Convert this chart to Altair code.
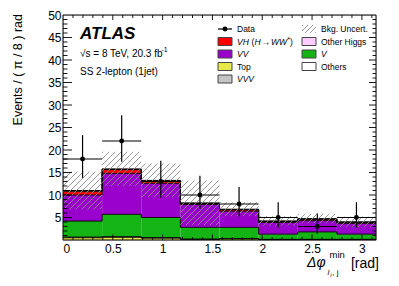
import numpy as np
import pandas as pd
import altair as alt

# ---------------- data ----------------
bin_edges = [i * np.pi / 8 for i in range(9)]
data_counts = [18, 22, 13, 10, 8, 5, 3, 5]
data_err_lo = [13.8, 17.4, 9.4, 6.9, 5.2, 2.8, 1.4, 2.8]
data_err_hi = [23.3, 27.7, 17.6, 14.3, 11.8, 8.4, 5.9, 8.4]

comp_names = ["Top", "VVV", "V", "VV", "VH", "Other Higgs", "Others"]
comp_colors = ["#e8e84c", "#c4c4c4", "#14b414", "#9900cc", "#ff0000", "#ffccff", "#ffffff"]
top_vals = [0.5, 0.6, 0.4, 0.15, 0.25, 0.1, 0.1, 0.1]
vvv_vals = [0.15, 0.15, 0.15, 0.05, 0.05, 0.05, 0.05, 0.05]
v_vals = [3.55, 4.95, 4.45, 2.6, 2.5, 1.15, 1.65, 1.15]
vv_vals = [5.8, 9.1, 7.6, 5.1, 3.6, 2.6, 2.5, 2.4]
vh_vals = [0.85, 0.85, 0.5, 0.2, 0.3, 0.2, 0.3, 0.2]
other_higgs_vals = [0.05, 0.05, 0.05, 0.05, 0.05, 0.05, 0.05, 0.05]
others_vals = [0.1, 0.1, 0.1, 0.1, 0.1, 0.1, 0.1, 0.1]
bkg_unc = [4.2, 3.8, 3.75, 4.95, 1.55, 1.05, 1.05, 1.15]

x_tick_labels = [0, 0.5, 1, 1.5, 2, 2.5, 3]
y_tick_labels = [5, 10, 15, 20, 25, 30, 35, 40, 45, 50]

legend_col1 = ["Data", "VH (H→WW*)", "VV", "Top", "VVV"]
legend_col2 = ["Bkg. Uncert.", "Other Higgs", "V", "Others"]
atlas_label = "ATLAS"
energy_label = "√s = 8 TeV, 20.3 fb"
energy_sup = "-1"
region_label = "SS 2-lepton (1jet)"
y_title = "Events / ( π / 8 ) rad"

# ---------------- layout ----------------
FONT = "Liberation Sans"
X0, Y_BOT = 63.0, 240.0
PW, PH = 313.0, 225.0
KX, KY = PW / np.pi, PH / 50.0


def dx(px):
    return (px - X0) / KX


def dy(py):
    return (Y_BOT - py) / KY


xs = alt.Scale(domain=[0, np.pi], nice=False, zero=False)
ys = alt.Scale(domain=[0, 50], nice=False, zero=False)
xaxis = alt.Axis(values=x_tick_labels, labelExpr="'' + datum.value", ticks=False, tickSize=0,
                 domain=False, grid=False, labelFont=FONT, labelFontSize=12, labelColor="black",
                 labelPadding=3, title=None)
yaxis = alt.Axis(values=y_tick_labels, labelExpr="'' + datum.value", ticks=False, tickSize=0,
                 domain=False, grid=False, labelFont=FONT, labelFontSize=12, labelColor="black",
                 labelPadding=2, title=None)


def X(f):
    return alt.X(f, type="quantitative", scale=xs, axis=xaxis, title=None)


def Y(f):
    return alt.Y(f, type="quantitative", scale=ys, axis=yaxis, title=None)


def hatch_segments(x0, x1, y0, y1, step=6.0):
    A0, A1, B0, B1 = x0 * KX, x1 * KX, y0 * KY, y1 * KY
    segs = []
    kmin = int(np.ceil((B0 - A1) / step))
    kmax = int(np.floor((B1 - A0) / step))
    for k in range(kmin, kmax + 1):
        c = k * step
        xa = max(A0, B0 - c)
        xb = min(A1, B1 - c)
        if xb - xa > 0.3:
            segs.append({"x": xa / KX, "y": (xa + c) / KY, "x2": xb / KX, "y2": (xb + c) / KY})
    return segs


# ---------------- stack ----------------
comp_vals = [top_vals, vvv_vals, v_vals, vv_vals, vh_vals, other_higgs_vals, others_vals]
rows, outline = [], []
cum = np.zeros(8)
for name, vals in zip(comp_names, comp_vals):
    lo = cum.copy()
    cum = cum + np.array(vals)
    for i in range(8):
        rows.append({"comp": name, "x0": bin_edges[i], "x1": bin_edges[i + 1], "lo": lo[i], "hi": cum[i]})
    for i in range(9):
        outline.append({"comp": name, "x": bin_edges[i], "y": cum[min(i, 7)]})
stack_df = pd.DataFrame(rows)
outline_df = pd.DataFrame(outline)
total = cum

bars = alt.Chart(stack_df).mark_rect(strokeWidth=0).encode(
    x=X("x0"), x2="x1", y=Y("lo"), y2="hi",
    color=alt.Color("comp:N", scale=alt.Scale(domain=comp_names, range=comp_colors), legend=None),
)
outlines = alt.Chart(outline_df).mark_line(interpolate="step-after", color="black", strokeWidth=0.9).encode(
    x=X("x"), y=Y("y"), detail="comp:N"
)

# hatch band
hsegs = []
for i in range(8):
    hsegs += hatch_segments(bin_edges[i], bin_edges[i + 1], max(0.0, total[i] - bkg_unc[i]), total[i] + bkg_unc[i])
# legend hatch box
hsegs += hatch_segments(dx(302), dx(316), dy(33), dy(25), step=5.0)
hatch = alt.Chart(pd.DataFrame(hsegs)).mark_rule(color="#8f8f8f", strokeWidth=0.9).encode(
    x=X("x"), y=Y("y"), x2="x2", y2="y2"
)

# data points
centers = [(bin_edges[i] + bin_edges[i + 1]) / 2 for i in range(8)]
data_df = pd.DataFrame({"xc": centers, "x0": bin_edges[:-1], "x1": bin_edges[1:], "n": data_counts,
                        "lo": data_err_lo, "hi": data_err_hi})
vbars = alt.Chart(data_df).mark_rule(color="black", strokeWidth=1.2).encode(x=X("xc"), y=Y("lo"), y2="hi")
hbars = alt.Chart(data_df).mark_rule(color="black", strokeWidth=1.2).encode(x=X("x0"), x2="x1", y=Y("n"))
pts = alt.Chart(data_df).mark_circle(color="black", opacity=1, size=24).encode(x=X("xc"), y=Y("n"))

# ticks (inside)
x_minor = [round(0.1 * k, 1) for k in range(1, 32) if k % 5 != 0]
x_major = [0.5 * k for k in range(1, 7)]
y_minor = [k for k in range(1, 50) if k % 5 != 0]
y_major = [5 * k for k in range(1, 10)]
tick_rows = []
for v in x_major:
    tick_rows.append({"x": v, "x2": v, "y": 0, "y2": 5.5 / KY})
    tick_rows.append({"x": v, "x2": v, "y": 50, "y2": 50 - 5.0 / KY})
for v in x_minor:
    tick_rows.append({"x": v, "x2": v, "y": 0, "y2": 3.0 / KY})
    tick_rows.append({"x": v, "x2": v, "y": 50, "y2": 50 - 3.0 / KY})
for v in y_major:
    tick_rows.append({"x": 0, "x2": 9.0 / KX, "y": v, "y2": v})
    tick_rows.append({"x": np.pi, "x2": np.pi - 7.0 / KX, "y": v, "y2": v})
for v in y_minor:
    tick_rows.append({"x": 0, "x2": 4.5 / KX, "y": v, "y2": v})
    tick_rows.append({"x": np.pi, "x2": np.pi - 3.5 / KX, "y": v, "y2": v})
ticks = alt.Chart(pd.DataFrame(tick_rows)).mark_rule(color="black", strokeWidth=0.9).encode(
    x=X("x"), x2="x2", y=Y("y"), y2="y2"
)

frame = alt.Chart(pd.DataFrame({"a": [0]})).mark_rect(filled=False, stroke="black", strokeWidth=1).encode(
    x=alt.value(0), x2=alt.value(PW), y=alt.value(0), y2=alt.value(PH)
)

# ---------------- legend ----------------
row_y = [29, 41.5, 54, 66.5, 79]
box_items = [
    (comp_colors[4], 218, row_y[1]), (comp_colors[3], 218, row_y[2]), (comp_colors[0], 218, row_y[3]),
    (comp_colors[1], 218, row_y[4]),
    (comp_colors[5], 302, row_y[1]), (comp_colors[2], 302, row_y[2]), (comp_colors[6], 302, row_y[3]),
]
box_df = pd.DataFrame([{"x": dx(bx), "x2": dx(bx + 14), "y": dy(by + 4), "y2": dy(by - 4), "c": c}
                       for c, bx, by in box_items])
boxes = alt.Chart(box_df).mark_rect(stroke="#444444", strokeWidth=1).encode(
    x=X("x"), x2="x2", y=Y("y"), y2="y2", fill=alt.Fill("c:N", scale=None)
)
leg_line = alt.Chart(pd.DataFrame({"x": [dx(218)], "x2": [dx(232)], "y": [dy(row_y[0])]})).mark_rule(
    color="black", strokeWidth=1.2).encode(x=X("x"), x2="x2", y=Y("y"))
leg_pt = alt.Chart(pd.DataFrame({"x": [dx(225)], "y": [dy(row_y[0])]})).mark_circle(
    color="black", opacity=1, size=24).encode(x=X("x"), y=Y("y"))


def txt(items, size, style="normal", weight="normal", align="left", baseline="alphabetic", angle=0):
    df = pd.DataFrame([{"t": t, "x": dx(px), "y": dy(py)} for t, px, py in items])
    return alt.Chart(df).mark_text(font=FONT, fontSize=size, fontStyle=style, fontWeight=weight,
                                   align=align, baseline=baseline, angle=angle, color="black").encode(
        x=X("x"), y=Y("y"), text="t:N")


LS = 8.5
leg_normal = txt([(legend_col1[0], 237, row_y[0]), (legend_col1[3], 237, row_y[3]),
                  (legend_col2[0], 321, row_y[0]), (legend_col2[1], 321, row_y[1]),
                  (legend_col2[3], 321, row_y[3]),
                  ("(", 251.5, row_y[1]), ("→", 261.5, row_y[1]), (")", 290, row_y[1])],
                 LS, baseline="middle")
leg_italic = txt([(legend_col1[2], 237, row_y[2]), (legend_col1[4], 237, row_y[4]),
                  (legend_col2[2], 321, row_y[2]),
                  ("VH", 237, row_y[1]), ("H", 254.5, row_y[1]), ("WW", 271, row_y[1])],
                 LS, style="italic", baseline="middle")
leg_star = txt([("*", 287.3, row_y[1] - 1.5)], 7, baseline="middle")

# ---------------- annotations ----------------
atlas = txt([(atlas_label, 80, 39)], 17, style="italic", weight="bold")
energy = txt([(energy_label, 80, 56.5), (region_label, 80, 74.5)], 10)
esup = txt([(energy_sup, 161.5, 51.5)], 7)
ytitle = txt([(y_title, 21.5, 14)], 12.5, align="right", angle=270)
xt_main = txt([("Δφ", 307, 267)], 14, style="italic")
xt_rad = txt([("[rad]", 379, 267.5)], 14, align="right")
xt_sup = txt([("min", 329.5, 258)], 9.5)
xt_sub_l = txt([("l", 327.5, 275)], 8, style="italic")
xt_sub_i = txt([("i", 330.2, 276.5)], 6, style="italic")
xt_sub_j = txt([(", j", 332.2, 275)], 8)

chart = alt.layer(
    bars, outlines, hatch, vbars, hbars, pts, ticks, frame,
    boxes, leg_line, leg_pt, leg_normal, leg_italic, leg_star,
    atlas, energy, esup, ytitle, xt_main, xt_rad, xt_sup, xt_sub_l, xt_sub_i, xt_sub_j,
).properties(
    width=PW, height=PH, autosize="none",
    padding={"left": 55, "top": 7, "right": 15, "bottom": 38},
).configure_view(stroke=None).configure(background="white")

chart.save("out.html", embed_options={"renderer": "svg", "actions": False})
